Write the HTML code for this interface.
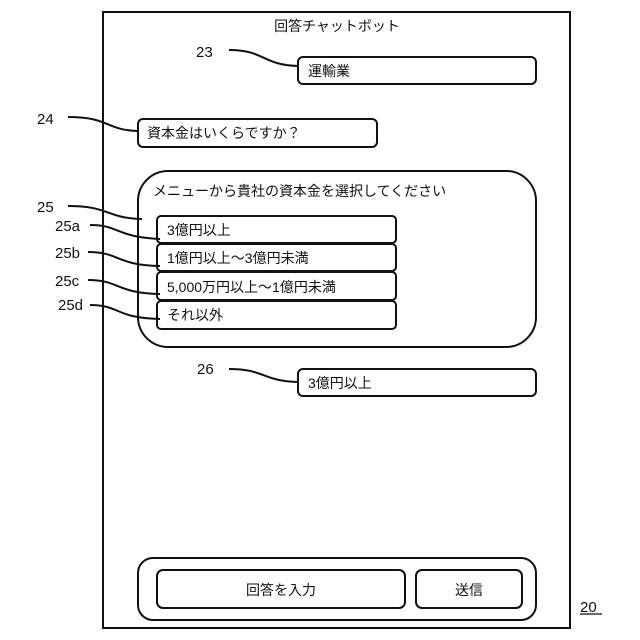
<!DOCTYPE html>
<html><head><meta charset="utf-8"><style>body{margin:0;background:#fff}svg{display:block}text{font-family:"Liberation Sans","Noto Sans CJK JP",sans-serif;fill:#111}</style></head>
<body>
<svg width="640" height="640" viewBox="0 0 640 640" xmlns="http://www.w3.org/2000/svg">
<g fill="none" stroke="#111" stroke-width="2">
<rect x="103" y="12" width="467" height="616"/>
<rect x="298" y="57" width="238" height="27" rx="5"/>
<rect x="138" y="119" width="239" height="28" rx="5"/>
<rect x="138" y="171" width="398" height="176" rx="30"/>
<rect x="157" y="216" width="239" height="27" rx="4"/>
<rect x="157" y="244" width="239" height="27" rx="4"/>
<rect x="157" y="272" width="239" height="28" rx="4"/>
<rect x="157" y="301" width="239" height="28" rx="4"/>
<rect x="298" y="369" width="238" height="27" rx="5"/>
<rect x="138" y="558" width="398" height="62" rx="15"/>
<rect x="157" y="570" width="248" height="38" rx="6"/>
<rect x="416" y="570" width="106" height="38" rx="6"/>
<path d="M229 50 C265 50,262 65,298 66"/>
<path d="M68 117 C110 117,105 130,138 131"/>
<path d="M68 206 C110 206,105 218,142 219"/>
<path d="M90 225 C120 225,115 237,160 239"/>
<path d="M88 252 C120 252,115 265,160 266"/>
<path d="M88 280 C120 280,115 293,160 294"/>
<path d="M90 305 C120 305,115 318,160 319"/>
<path d="M229 369 C265 369,262 381,298 382"/>
<path d="M580 614 H602" stroke-width="1.2"/>
</g>
<g font-size="14">
<text x="337" y="31" text-anchor="middle">回答チャットボット</text>
<text x="196" y="57" font-size="15">23</text>
<text x="308" y="76">運輸業</text>
<text x="37" y="124" font-size="15">24</text>
<text x="147" y="138">資本金はいくらですか？</text>
<text x="153" y="196">メニューから貴社の資本金を選択してください</text>
<text x="37" y="212" font-size="15">25</text>
<text x="55" y="231" font-size="15">25a</text>
<text x="55" y="258" font-size="15">25b</text>
<text x="55" y="286" font-size="15">25c</text>
<text x="58" y="310" font-size="15">25d</text>
<text x="167" y="235">3億円以上</text>
<text x="167" y="263">1億円以上～3億円未満</text>
<text x="167" y="292">5,000万円以上～1億円未満</text>
<text x="167" y="320">それ以外</text>
<text x="197" y="374" font-size="15">26</text>
<text x="308" y="388">3億円以上</text>
<text x="281" y="595" text-anchor="middle">回答を入力</text>
<text x="469" y="595" text-anchor="middle">送信</text>
<text x="580" y="612" font-size="15">20</text>
</g>
</svg>
</body></html>
